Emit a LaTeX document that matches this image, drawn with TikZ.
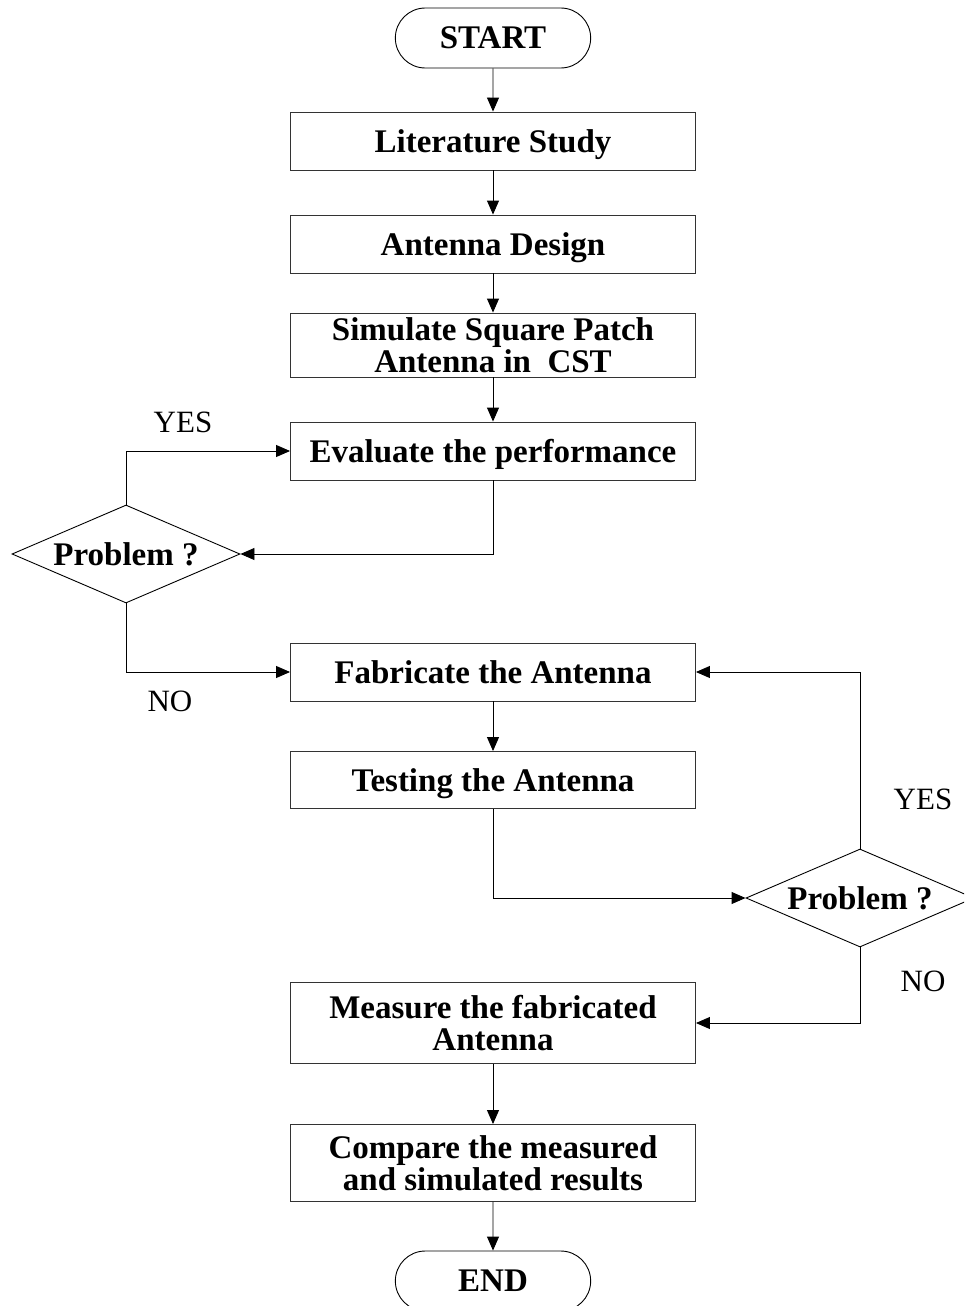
\documentclass[tikz,border=0pt]{standalone}
\usepackage{fontspec}
\setmainfont{Liberation Serif}
\usepackage{tikz}
\usetikzlibrary{shapes.geometric,shapes.misc,arrows.meta}

\tikzset{
  stepbox/.style={draw=black!80,minimum width=405pt,minimum height=58pt,align=center,text depth=0pt,
    font=\fontsize{33}{32}\selectfont\bfseries},
  termbox/.style={draw,rounded rectangle,minimum width=202pt,minimum height=60pt,text depth=0pt,
    font=\fontsize{33}{32}\selectfont\bfseries},
  askbox/.style={draw,diamond,aspect=2.33,inner sep=0pt,minimum width=228pt,minimum height=98pt,
    font=\fontsize{33}{32}\selectfont\bfseries},
  lbl/.style={font=\fontsize{31}{31}\selectfont},
  arr/.style={-{Triangle[length=14pt,width=12pt]}}
}

\begin{document}
\begin{tikzpicture}[x=1pt,y=-1pt,line width=0.9pt]
\clip (0,0) rectangle (964,1306);
\useasboundingbox (0,0) rectangle (964,1306);
\node[termbox] (start) at (493,38) {START};
\node[stepbox] (lit) at (493,141) {Literature Study};
\node[stepbox] (des) at (493,244) {Antenna Design};
\node[stepbox,minimum height=64pt] (sim) at (493,345) {Simulate Square Patch\\Antenna in~ CST};
\node[stepbox] (eva) at (493,451) {Evaluate the performance};
\node[askbox] (prob1) at (126,554) {Problem ?};
\node[stepbox] (fab) at (493,672) {Fabricate the Antenna};
\node[stepbox,minimum height=57pt] (tst) at (493,780) {Testing the Antenna};
\node[askbox] (prob2) at (860,898) {Problem ?};
\node[stepbox,minimum height=81pt] (mea) at (493,1023) {Measure the fabricated\\Antenna};
\node[stepbox,minimum height=77pt] (cmp) at (493,1163) {Compare the measured\\and simulated results};
\node[termbox] (end) at (493,1281) {END};
\node[lbl] (yes1) at (183,422) {YES};
\node[lbl] (no1) at (170,701) {NO};
\node[lbl] (yes2) at (923,799) {YES};
\node[lbl] (no2) at (923,981) {NO};
\draw[arr] (start) -- (lit);
\draw[arr] (lit) -- (des);
\draw[arr] (des) -- (sim);
\draw[arr] (sim) -- (eva);
\draw[arr] (eva.south) |- (prob1.east);
\draw[arr] (prob1.north) |- (eva.west);
\draw[arr] (prob1.south) |- (fab.west);
\draw[arr] (fab) -- (tst);
\draw[arr] (tst.south) |- (prob2.west);
\draw[arr] (prob2.north) |- (fab.east);
\draw[arr] (prob2.south) |- (mea.east);
\draw[arr] (mea) -- (cmp);
\draw[arr] (cmp) -- (end);
\end{tikzpicture}
\end{document}
